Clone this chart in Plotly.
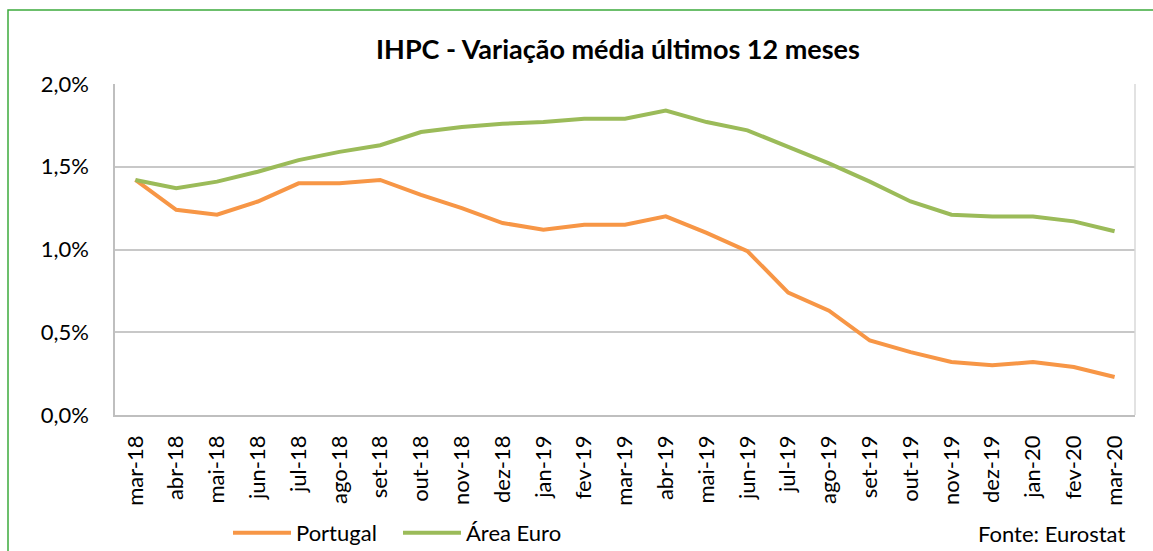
import plotly.graph_objects as go

months = ["mar-18", "abr-18", "mai-18", "jun-18", "jul-18", "ago-18", "set-18", "out-18",
          "nov-18", "dez-18", "jan-19", "fev-19", "mar-19", "abr-19", "mai-19", "jun-19",
          "jul-19", "ago-19", "set-19", "out-19", "nov-19", "dez-19", "jan-20", "fev-20", "mar-20"]

portugal = [1.42, 1.24, 1.21, 1.29, 1.40, 1.40, 1.42, 1.33, 1.25, 1.16, 1.12, 1.15, 1.15,
            1.20, 1.10, 0.99, 0.74, 0.63, 0.45, 0.38, 0.32, 0.30, 0.32, 0.29, 0.23]

area_euro = [1.42, 1.37, 1.41, 1.47, 1.54, 1.59, 1.63, 1.71, 1.74, 1.76, 1.77, 1.79, 1.79,
             1.84, 1.77, 1.72, 1.62, 1.52, 1.41, 1.29, 1.21, 1.20, 1.20, 1.17, 1.11]

y_ticks = [0, 0.5, 1.0, 1.5, 2.0]
y_tick_labels = ["0,0%", "0,5%", "1,0%", "1,5%", "2,0%"]

FONT = "Lato"
W, H = 1153, 551
L, R, T, B = 115, 1135, 84, 415  # plot area in pixels

fig = go.Figure()
fig.add_trace(go.Scatter(x=months, y=portugal, mode="lines", name="Portugal",
                         line=dict(color="#F79646", width=4)))
fig.add_trace(go.Scatter(x=months, y=area_euro, mode="lines", name="Área Euro",
                         line=dict(color="#9BBB59", width=4)))

pw, ph = R - L, B - T
def px(x):
    return (x - L) / pw
def py(y):
    return (B - y) / ph

fig.update_layout(
    width=W, height=H,
    margin=dict(l=L, r=W - R, t=T, b=H - B, autoexpand=False),
    paper_bgcolor="white", plot_bgcolor="white",
    font=dict(family=FONT, size=22, color="#000000"),
    title=dict(text="<b>IHPC - Variação média últimos 12 meses</b>",
               x=px(618), xref="paper", xanchor="center",
               y=1 - 50 / H, yanchor="middle",
               font=dict(family=FONT, size=27, color="#000000")),
    showlegend=True,
    legend=dict(orientation="h", x=px(228), xanchor="left", y=py(533), yanchor="middle",
                font=dict(family=FONT, size=22), bgcolor="rgba(0,0,0,0)",
                itemwidth=58, entrywidth=97, entrywidthmode="pixels", traceorder="normal"),
    xaxis=dict(type="category", tickangle=-90, showgrid=False, showline=True,
               linecolor="#BFBFBF", linewidth=1.5, ticks="", ticklabelstandoff=10,
               tickfont=dict(family=FONT, size=22), automargin=False,
               range=[-0.5, len(months) - 0.5], mirror=False),
    yaxis=dict(range=[0, 2.0], tickvals=y_ticks, ticktext=y_tick_labels,
               showgrid=True, gridcolor="#C8C8C8", gridwidth=1.5,
               showline=True, linecolor="#BFBFBF", linewidth=1.5, ticks="",
               ticklabelstandoff=20, zeroline=False,
               tickfont=dict(family=FONT, size=22), automargin=False),
    shapes=[
        dict(type="line", xref="paper", yref="paper", x0=1, x1=1, y0=0, y1=1,
             line=dict(color="#D9D9D9", width=1.5)),
        dict(type="rect", xref="paper", yref="paper",
             x0=px(8), x1=px(1165), y0=py(570), y1=py(10),
             line=dict(color="#3DAA3D", width=1.5), fillcolor="rgba(0,0,0,0)", layer="above"),
    ],
    annotations=[
        dict(text="Fonte: Eurostat", xref="paper", yref="paper", x=px(1127), y=py(533),
             xanchor="right", yanchor="middle", showarrow=False,
             font=dict(family=FONT, size=22, color="#000000")),
    ],
)

fig.write_html("out.html", config={"displayModeBar": False},
               post_script="document.body.style.margin='0';document.body.style.overflow='hidden';")
